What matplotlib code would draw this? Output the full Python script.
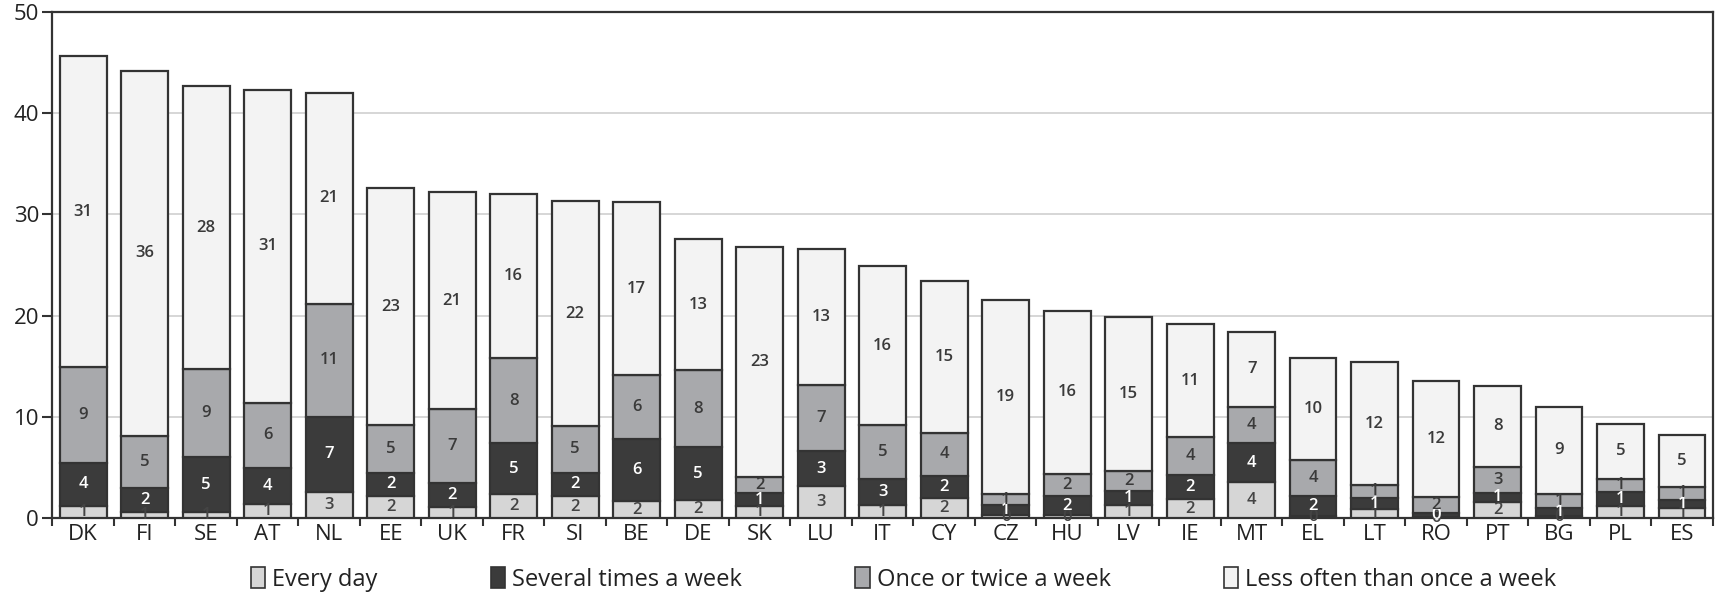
import numpy as np
import matplotlib as mpl
mpl.use('Agg')
import matplotlib.pyplot as plt
from matplotlib.patches import Patch
#
#--- data
#
countries = ['DK', 'FI', 'SE', 'AT', 'NL', 'EE', 'UK', 'FR', 'SI', 'BE', 'DE', 'SK', 'LU',
             'IT', 'CY', 'CZ', 'HU', 'LV', 'IE', 'MT', 'EL', 'LT', 'RO', 'PT', 'BG', 'PL', 'ES']

every_day  = [1.2, 0.6, 0.6, 1.4, 2.6, 2.2, 1.1, 2.4, 2.2, 1.7, 1.8, 1.2, 3.2,
              1.3, 2.0, 0.3, 0.3, 1.3, 1.9, 3.6, 0.2, 0.9, 0.1, 1.6, 0.2, 1.2, 1.0]
several    = [4.3, 2.4, 5.4, 3.6, 7.4, 2.3, 2.4, 5.0, 2.3, 6.1, 5.2, 1.3, 3.4,
              2.6, 2.2, 1.0, 1.9, 1.4, 2.4, 3.8, 2.0, 1.1, 0.4, 0.9, 0.8, 1.4, 0.8]
once_twice = [9.4, 5.1, 8.7, 6.4, 11.2, 4.7, 7.3, 8.4, 4.6, 6.3, 7.6, 1.6, 6.6,
              5.3, 4.2, 1.1, 2.2, 2.0, 3.7, 3.6, 3.6, 1.3, 1.6, 2.6, 1.4, 1.3, 1.3]
less_often = [30.7, 36.1, 28.0, 30.9, 20.8, 23.4, 21.4, 16.2, 22.2, 17.1, 13.0, 22.7, 13.4,
              15.7, 15.0, 19.2, 16.1, 15.2, 11.2, 7.4, 10.0, 12.1, 11.5, 8.0, 8.6, 5.4, 5.1]

series_names = ['Every day', 'Several times a week', 'Once or twice a week', 'Less often than once a week']
#
#--- style
#
colors     = ['#d6d6d6', '#3b3b3b', '#a8a9ac', '#f3f3f3']
txtcolors  = ['#444444', '#ffffff', '#3a3a3a', '#3a3a3a']
edge       = '#333333'
fam        = ['Open Sans', 'DejaVu Sans']

plt.close('all')
mpl.rcParams['font.family'] = fam

fig = plt.figure(figsize=(17.18, 5.95), dpi=100)
ax  = fig.add_axes([0.030, 0.129, 0.967, 0.851])

x = np.arange(len(countries))
width = 0.76
bottom = np.zeros(len(countries))
series = [every_day, several, once_twice, less_often]
#
#--- stacked bars with value labels
#
for k, vals in enumerate(series):
    vals = np.array(vals)
    ax.bar(x, vals, width, bottom=bottom, color=colors[k], edgecolor=edge,
           linewidth=1.6, zorder=3)
    for i in range(len(x)):
        ax.text(x[i], bottom[i] + vals[i] / 2.0, '%.0f' % vals[i], ha='center', va='center',
                fontsize=12, fontweight='semibold', color=txtcolors[k], zorder=4)
    bottom += vals
#
#--- axes
#
ax.set_xlim(-0.515, 26.41)
ax.set_ylim(0, 50)
ax.set_yticks([0, 10, 20, 30, 40, 50])
ax.yaxis.grid(True, color='#cfcfcf', linewidth=1.2, zorder=0)
ax.set_axisbelow(True)

ax.set_xticks(x)
ax.set_xticklabels(countries)
ax.set_xticks(np.arange(-0.5, len(countries), 1.0), minor=True)
ax.tick_params(axis='x', which='major', length=0, pad=4, labelsize=16, colors='#222222')
ax.tick_params(axis='x', which='minor', length=6, width=1.5, color='#333333')
ax.tick_params(axis='y', length=7, width=1.5, color='#333333', labelsize=16, pad=2,
               labelcolor='#222222')

for s in ['left', 'right', 'top', 'bottom']:
    ax.spines[s].set_color('#333333')
    ax.spines[s].set_linewidth(1.6)
#
#--- legend
#
handles = [Patch(facecolor=colors[k], edgecolor=edge, linewidth=1.2) for k in range(4)]
leg = fig.legend(handles, series_names, loc='center', ncol=4, frameon=False,
                 bbox_to_anchor=(0.526, 0.026), fontsize=17, handlelength=0.6,
                 handleheight=1.0, handletextpad=0.3, columnspacing=4.8)
for t in leg.get_texts():
    t.set_color('#222222')

plt.savefig('out.png', dpi=100)
